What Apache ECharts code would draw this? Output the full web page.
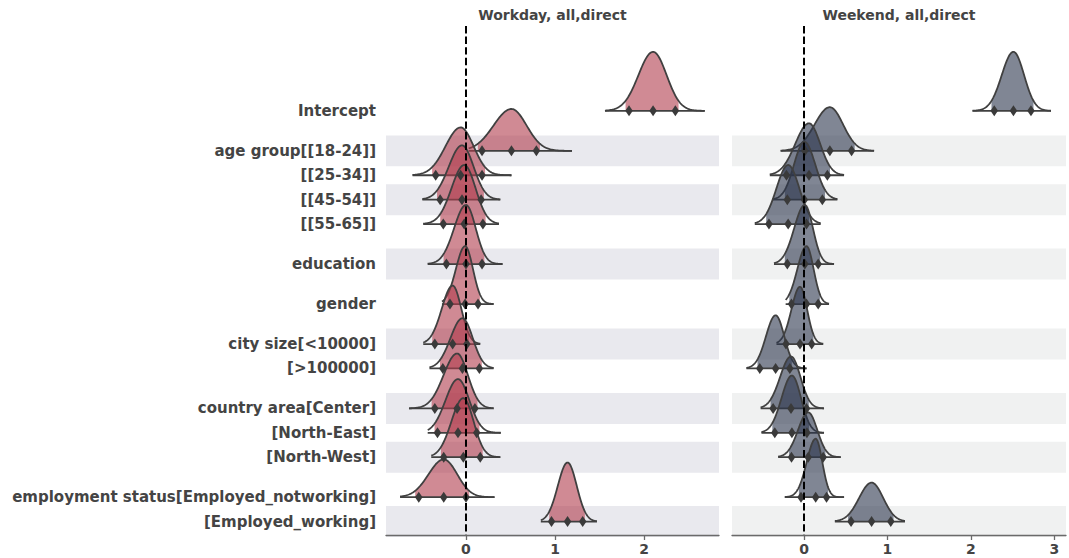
<!DOCTYPE html>
<html>
<head>
<meta charset="utf-8">
<script src="https://cdn.jsdelivr.net/npm/echarts@6/dist/echarts.min.js"></script>
<style>
html, body { margin: 0; padding: 0; background: #ffffff; }
#chart { width: 1069px; height: 558px; }
</style>
</head>
<body>
<div id="chart"></div>
<script>
// Coefficient names, listed top to bottom
const rowLabels = [
  'Intercept',
  'age group[[18-24]]', '[[25-34]]', '[[45-54]]', '[[55-65]]',
  'education',
  'gender',
  'city size[<10000]', '[>100000]',
  'country area[Center]', '[North-East]', '[North-West]',
  'employment status[Employed_notworking]', '[Employed_working]'
];
// Predictor each coefficient belongs to (rows of one predictor sit closer together)
const rowGroups = [0, 1, 1, 1, 1, 2, 3, 4, 4, 5, 5, 5, 6, 6];

// Workday, all, direct: posterior summaries per coefficient
const workdayLow  = [1.83, 0.18, -0.34, -0.29, -0.255, -0.22, -0.18, -0.35, -0.26, -0.35, -0.32, -0.25, -0.53, 0.96];
const workdayMed  = [2.10, 0.51, -0.06, -0.045, -0.02, 0.00, -0.01, -0.15, -0.04, -0.10, -0.09, -0.03, -0.25, 1.14];
const workdayHigh = [2.35, 0.79, 0.18, 0.17, 0.19, 0.18, 0.135, 0.01, 0.15, 0.10, 0.12, 0.16, 0.00, 1.31];
const workdayMin  = [1.56, 0.03, -0.60, -0.49, -0.48, -0.43, -0.27, -0.48, -0.41, -0.64, -0.43, -0.39, -0.74, 0.84];
const workdayMax  = [2.68, 1.19, 0.51, 0.385, 0.37, 0.41, 0.31, 0.16, 0.31, 0.31, 0.39, 0.385, 0.32, 1.47];
const workdayPeak = [1.00, 0.71, 0.81, 0.92, 1.00, 1.00, 0.98, 0.99, 0.85, 0.93, 0.91, 1.00, 0.64, 1.00];

// Weekend, all, direct: posterior summaries per coefficient
const weekendLow  = [2.28, 0.01, -0.21, -0.20, -0.42, -0.20, -0.15, -0.216, -0.53, -0.37, -0.35, -0.15, -0.036, 0.564];
const weekendMed  = [2.51, 0.31, 0.06, 0.004, -0.19, 0.01, 0.03, -0.048, -0.34, -0.156, -0.145, 0.05, 0.14, 0.81];
const weekendHigh = [2.72, 0.57, 0.28, 0.22, 0.03, 0.17, 0.17, 0.092, -0.17, 0.03, 0.035, 0.23, 0.27, 1.04];
const weekendMin  = [2.02, -0.28, -0.41, -0.38, -0.59, -0.36, -0.22, -0.33, -0.69, -0.52, -0.51, -0.31, -0.23, 0.37];
const weekendMax  = [2.96, 0.84, 0.48, 0.40, 0.20, 0.36, 0.30, 0.23, 0.03, 0.24, 0.24, 0.44, 0.48, 1.21];
const weekendPeak = [1.00, 0.74, 0.88, 0.98, 1.00, 1.00, 0.98, 0.97, 0.90, 0.88, 0.97, 0.76, 0.99, 0.66];

// Tick labels on the coefficient axes
const workdayTicks = [0, 1, 2];
const weekendTicks = [0, 1, 2, 3];

const panelTitles = ['Workday, all,direct', 'Weekend, all,direct'];

// ---- layout ----
const FONT = 'DejaVu Sans';
const TEXT = '#444444';
const EDGE = '#404040';
const groupGap = 1.64;          // vertical distance between predictors, in row units
const ridgeHeight = 2.42;       // height of the tallest ridge, in row units
const Z90 = 1.645, Z94 = 1.881; // quantile marks and shaded interval
const yMin = -3.48, yMax = 17.39;

const rowPos = [];
rowGroups.forEach((g, i) => {
  if (i === 0) rowPos.push(0);
  else rowPos.push(rowPos[i - 1] + (g === rowGroups[i - 1] ? 1 : groupGap));
});

const panels = [
  { low: workdayLow, med: workdayMed, high: workdayHigh, min: workdayMin, max: workdayMax, peak: workdayPeak,
    ticks: workdayTicks, xMin: -0.898, xMax: 2.84, fill: 'rgba(177,60,77,0.6)', band: '#e9e9ee',
    left: 386, right: 350 },
  { low: weekendLow, med: weekendMed, high: weekendHigh, min: weekendMin, max: weekendMax, peak: weekendPeak,
    ticks: weekendTicks, xMin: -0.863, xMax: 3.14, fill: 'rgba(43,53,77,0.6)', band: '#f0f1f1',
    left: 732, right: 3 }
];

function nearestRow(v) {
  let best = 0;
  rowPos.forEach((p, i) => { if (Math.abs(p - v) < Math.abs(rowPos[best] - v)) best = i; });
  return best;
}

const grids = [], xAxes = [], yAxes = [], series = [], titles = [];

panels.forEach((p, k) => {
  grids.push({ left: p.left, right: p.right, top: 26, bottom: 23, containLabel: false });
  titles.push({
    text: panelTitles[k], padding: 0,
    left: p.left + (1069 - p.left - p.right) / 2, top: 8, textAlign: 'center',
    textStyle: { fontFamily: FONT, fontSize: 14, fontWeight: 'bold', color: TEXT }
  });
  xAxes.push({
    type: 'value', gridIndex: k, min: p.xMin, max: p.xMax,
    axisLine: { show: true, onZero: false, lineStyle: { color: '#6a6a6a', width: 1.3 } },
    axisTick: { show: true, customValues: p.ticks, length: 5, lineStyle: { color: '#6a6a6a', width: 1.3 } },
    axisLabel: { customValues: p.ticks, fontFamily: FONT, fontSize: 14, fontWeight: 'bold', color: TEXT, margin: 7,
                 formatter: v => String(Math.round(v)) },
    splitLine: { show: false }
  });
  yAxes.push({
    type: 'value', gridIndex: k, inverse: true, min: yMin, max: yMax,
    axisLine: { show: false, onZero: false }, axisTick: { show: false }, splitLine: { show: false },
    axisLabel: {
      show: k === 0, customValues: rowPos, margin: 10,
      fontFamily: FONT, fontSize: 15, fontWeight: 'bold', color: TEXT,
      formatter: v => rowLabels[nearestRow(v)]
    }
  });

  // alternating row shading
  series.push({
    type: 'custom', xAxisIndex: k, yAxisIndex: k, z: 0, silent: true,
    data: rowPos.map((y, i) => [0, y, i]).filter(d => d[2] % 2 === 1),
    encode: { x: 0, y: 1 },
    renderItem(params, api) {
      const cs = params.coordSys;
      const y = api.value(1);
      const top = api.coord([0, y - 0.635])[1];
      const bot = api.coord([0, y + 0.635])[1];
      return { type: 'rect', shape: { x: cs.x, y: top, width: cs.width, height: bot - top },
               style: { fill: p.band } };
    }
  });

  // density ridges: outline over the whole sample range, shading over the interval
  series.push({
    type: 'custom', xAxisIndex: k, yAxisIndex: k, z: 2, silent: true,
    data: rowPos.map((y, i) => [p.med[i], y, i]),
    encode: { x: 0, y: 1 },
    renderItem(params, api) {
      const i = api.value(2);
      const base = rowPos[i];
      const lo = p.low[i], md = p.med[i], hi = p.high[i];
      const sdL = (md - lo) / Z90, sdR = (hi - md) / Z90;
      const h = ridgeHeight * p.peak[i];
      const dens = x => {
        const s = x < md ? sdL : sdR;
        return Math.exp(-0.5 * ((x - md) / s) * ((x - md) / s));
      };
      const n = 140;
      const curve = [];
      for (let j = 0; j <= n; j++) {
        const x = p.min[i] + (p.max[i] - p.min[i]) * j / n;
        curve.push(api.coord([x, base - h * dens(x)]));
      }
      const a = Math.max(p.min[i], md - Z94 * sdL), b = Math.min(p.max[i], md + Z94 * sdR);
      const area = [];
      for (let j = 0; j <= n; j++) {
        const x = a + (b - a) * j / n;
        area.push(api.coord([x, base - h * dens(x)]));
      }
      area.push(api.coord([b, base]));
      area.push(api.coord([a, base]));
      const b0 = api.coord([p.min[i], base]), b1 = api.coord([p.max[i], base]);
      return {
        type: 'group',
        children: [
          { type: 'polygon', shape: { points: area }, style: { fill: p.fill } },
          { type: 'polyline', shape: { points: curve }, style: { stroke: EDGE, lineWidth: 1.8, fill: 'none' } },
          { type: 'line', shape: { x1: b0[0], y1: b0[1], x2: b1[0], y2: b1[1] }, style: { stroke: EDGE, lineWidth: 1.8 } }
        ]
      };
    }
  });

  // quantile marks
  const marks = [];
  rowPos.forEach((y, i) => { marks.push([p.low[i], y], [p.med[i], y], [p.high[i], y]); });
  series.push({
    type: 'scatter', xAxisIndex: k, yAxisIndex: k, z: 3, silent: true,
    symbol: 'diamond', symbolSize: [7.5, 11],
    itemStyle: { color: '#3a3a3a', opacity: 1 },
    data: marks
  });

  // reference line at zero
  series.push({
    type: 'line', xAxisIndex: k, yAxisIndex: k, z: 4, silent: true,
    symbol: 'none',
    lineStyle: { color: '#000000', width: 2, type: [7.4, 3.2] },
    data: [[0, yMin], [0, yMax]]
  });
});

const chart = echarts.init(document.getElementById('chart'), null, { renderer: 'svg' });
chart.setOption({
  animation: false,
  backgroundColor: '#ffffff',
  title: titles,
  grid: grids,
  xAxis: xAxes,
  yAxis: yAxes,
  series: series
});
</script>
</body>
</html>
